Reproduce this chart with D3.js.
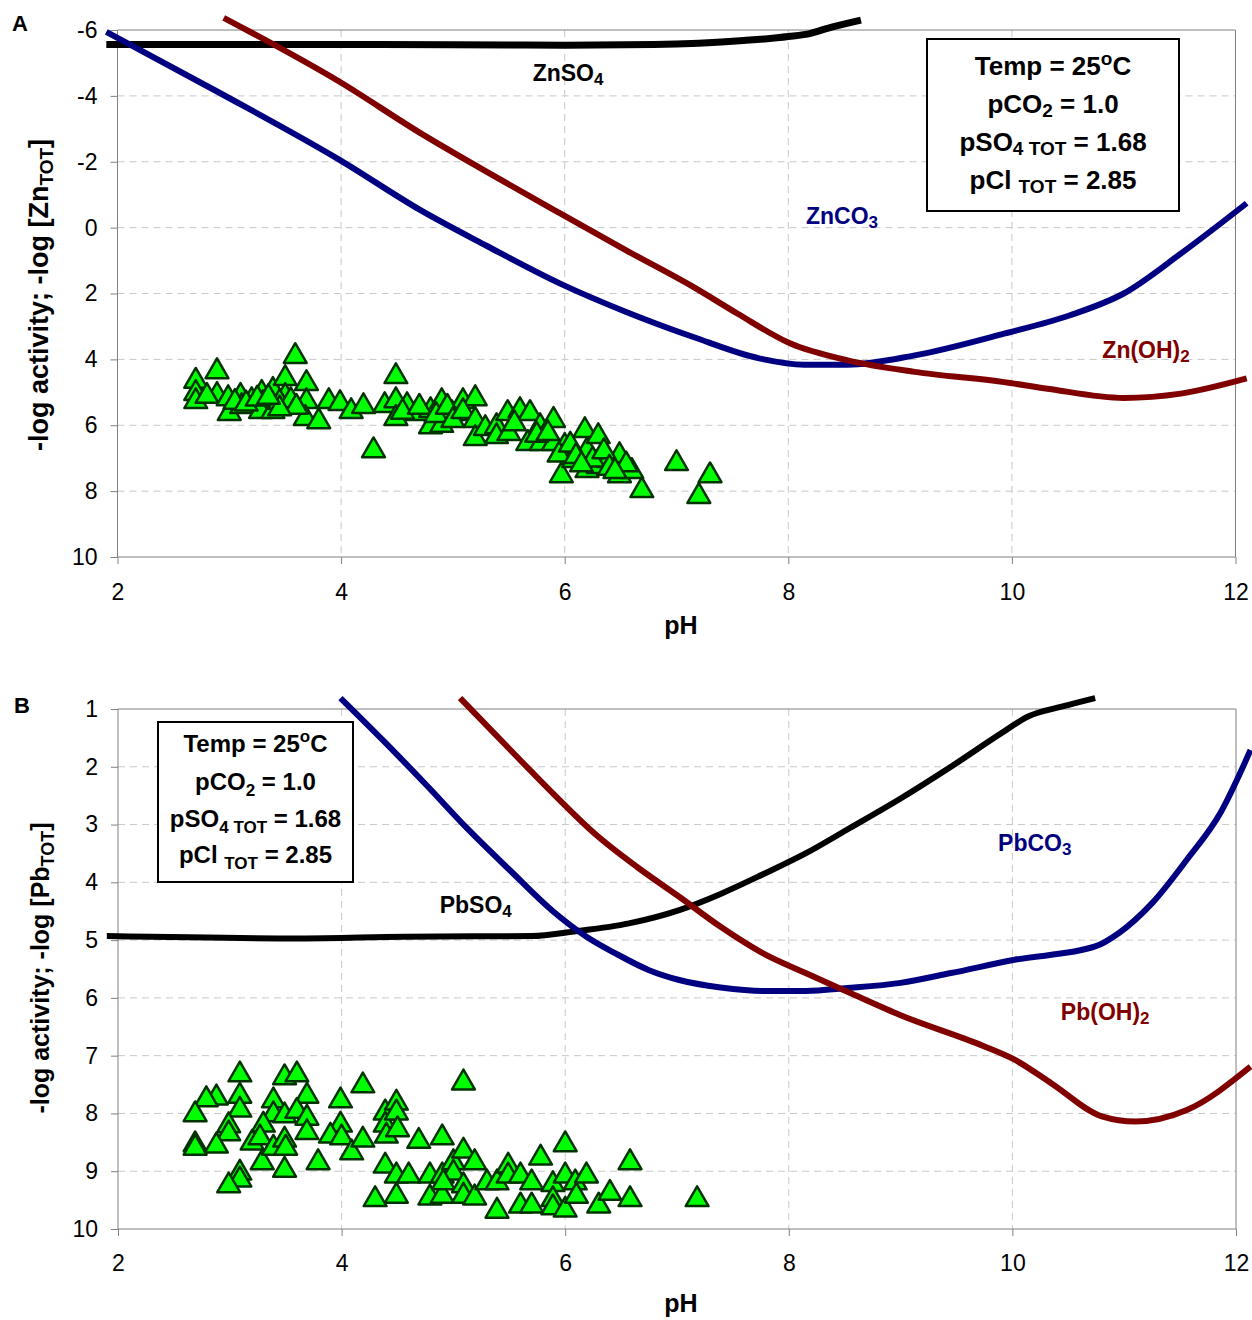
<html>
<head>
<meta charset="utf-8">
<style>
  body { margin: 0; background: #fff; }
  text { font-family: "Liberation Sans", Arial, sans-serif; }
</style>
</head>
<body>
<script src="https://d3js.org/d3.v7.min.js"></script>
<div id="chart"></div>
<script>
// ---------- data ----------
var phTicks = [2, 4, 6, 8, 10, 12];
var znTicks = [-6, -4, -2, 0, 2, 4, 6, 8, 10];
var pbTicks = [1, 2, 3, 4, 5, 6, 7, 8, 9, 10];

// panel A curves  [pH, value]
var znso4 = [[1.9,-5.56],[3,-5.56],[4,-5.56],[5,-5.55],[6,-5.54],[6.8,-5.56],[7.2,-5.6],[7.6,-5.68],[8.0,-5.8],[8.2,-5.9],[8.35,-6.05],[8.65,-6.3]];
var znco3 = [[1.9,-5.94],[2.92,-4.08],[3.99,-2.05],[4.71,-0.53],[5.3,0.55],[5.96,1.7],[6.55,2.56],[7.15,3.32],[7.74,3.97],[8.14,4.16],[8.53,4.16],[9.13,3.88],[9.93,3.22],[10.52,2.66],[11.0,2.0],[11.51,0.79],[12.1,-0.74]];
var znoh2 = [[2.95,-6.37],[3.99,-4.42],[4.71,-2.87],[5.3,-1.7],[5.96,-0.43],[6.55,0.69],[7.15,1.8],[7.54,2.6],[8.02,3.52],[8.53,4.03],[9.13,4.38],[9.93,4.69],[10.32,4.89],[11.0,5.17],[11.51,5.04],[12.1,4.58]];

// panel B curves
var pbso4 = [[1.9,4.93],[3.63,4.97],[4.57,4.94],[5.7,4.93],[6.08,4.85],[6.57,4.71],[7.02,4.48],[7.39,4.2],[7.77,3.86],[8.15,3.5],[8.52,3.09],[9.0,2.55],[9.45,2.0],[9.9,1.42],[10.14,1.13],[10.44,0.96],[10.74,0.81]];
var pbco3 = [[3.99,0.81],[4.38,1.56],[4.76,2.32],[5.13,3.08],[5.51,3.8],[5.89,4.5],[6.19,4.94],[6.45,5.23],[6.75,5.52],[7.02,5.69],[7.39,5.82],[7.77,5.88],[8.15,5.88],[8.52,5.83],[9.0,5.74],[9.45,5.57],[10.02,5.34],[10.74,5.11],[10.95,4.88],[11.25,4.36],[11.56,3.61],[11.86,2.8],[12.13,1.71]];
var pboh2 = [[5.06,0.81],[5.51,1.71],[5.89,2.46],[6.26,3.15],[6.64,3.73],[7.02,4.25],[7.39,4.77],[7.77,5.23],[8.15,5.57],[8.52,5.89],[9.0,6.3],[9.75,6.84],[10.02,7.07],[10.35,7.48],[10.8,8.05],[11.1,8.14],[11.56,7.94],[12.13,7.19]];

// measured samples
var znPoints = [[2.7,4.66],[2.7,5.03],[2.7,5.28],[2.89,4.37],[2.89,5.09],[2.8,5.12],[2.99,5.19],[3.0,5.64],[3.1,5.12],[3.11,5.43],[3.2,5.25],[3.29,5.03],[3.3,5.34],[3.28,5.58],[3.39,4.94],[3.39,5.58],[3.5,4.58],[3.5,5.12],[3.59,3.91],[3.69,4.73],[3.69,5.28],[3.68,5.79],[3.8,5.89],[3.89,5.28],[3.99,5.34],[4.09,5.58],[4.2,5.43],[4.29,6.77],[4.39,5.4],[4.49,4.52],[4.49,5.25],[4.49,5.79],[4.59,5.4],[4.67,5.64],[4.8,5.55],[4.8,6.04],[4.9,5.28],[4.9,6.0],[4.99,5.64],[5.09,5.28],[5.09,5.64],
  [3.05,5.3],[3.15,5.35],[3.25,5.2],[3.45,5.3],[3.55,5.25],[3.6,5.45],[3.45,5.5],[3.35,5.15],[4.55,5.6],[4.7,5.45],[4.85,5.7],[4.95,5.45],[5.0,5.85],
  [5.2,5.19],[5.09,5.58],[5.2,5.85],[5.2,6.4],[5.29,6.1],[5.39,6.04],[5.39,6.34],[5.49,5.64],[5.5,6.25],[5.6,5.55],[5.69,5.64],[5.78,6.04],[5.67,6.55],[5.79,6.55],[5.9,5.85],[5.9,6.55],[6.0,6.64],[5.97,7.53],[6.08,7.07],[6.18,6.16],[6.2,6.77],[6.2,7.37],[6.3,6.34],[6.3,7.25],[6.39,7.07],[6.49,6.92],[6.49,7.53],[6.6,7.4],[6.69,7.98],[7.0,7.16],[7.2,8.16],[7.3,7.53],
  [5.95,6.9],[6.05,6.6],[6.1,6.95],[6.25,7.05],[6.35,6.8],[6.4,7.3],[6.55,7.2],[6.15,7.2],[6.45,7.4],[5.55,5.95],[5.75,6.3],[5.85,6.25]];
var pbPoints = [[3.09,7.33],[3.09,7.7],[3.09,7.94],[3.09,9.03],[3.09,9.15],[2.99,9.25],[2.99,8.21],[2.99,8.35],[2.88,7.73],[2.79,7.76],[2.69,8.02],[2.69,8.54],[2.69,8.6],[2.88,8.56],[3.2,8.51],[3.29,8.85],[3.49,7.38],[3.6,7.33],[3.69,7.7],[3.39,7.78],[3.39,8.02],[3.3,8.2],[3.49,8.04],[3.6,7.96],[3.69,8.08],[3.69,8.33],[3.27,8.42],[3.39,8.6],[3.49,8.46],[3.5,8.6],[3.49,8.98],[3.79,8.85],[3.99,7.78],[3.99,8.2],[3.9,8.39],[4.0,8.42],[4.09,8.68],[4.19,7.52],[4.19,8.46],[4.39,7.99],[4.39,8.2],[4.4,8.39],[4.49,7.82],[4.49,7.99],[4.5,8.28],[4.39,8.91],[4.49,9.08],[4.3,9.49],[4.49,9.43],[4.6,9.08],[4.69,8.48],[4.79,9.08],[4.79,9.46],[4.9,8.42],[4.9,9.08],[4.9,9.43],[5.0,8.85],
  [5.09,7.47],[5.09,8.65],[5.0,9.03],[5.19,8.85],[4.91,9.2],[5.09,9.25],[5.09,9.43],[5.19,9.46],[5.3,9.2],[5.39,9.2],[5.39,9.69],[5.49,8.91],[5.49,9.08],[5.6,9.08],[5.6,9.6],[5.7,9.2],[5.7,9.6],[5.78,8.77],[5.89,9.23],[5.89,9.49],[5.89,9.63],[6.0,8.54],[6.0,9.08],[6.0,9.67],[6.09,9.2],[6.19,9.08],[6.1,9.43],[6.3,9.6],[6.4,9.38],[6.58,8.85],[6.58,9.49],[7.18,9.49]];

// curve labels: [text, subscript, pH, value, colour]
var znLabels = [["ZnSO", "4", 6.03, -4.45, "#000"], ["ZnCO", "3", 8.48, -0.1, "#000080"], ["Zn(OH)", "2", 11.2, 3.97, "#800000"]];
var pbLabels = [["PbSO", "4", 5.2, 4.53, "#000"], ["PbCO", "3", 10.2, 3.45, "#000080"], ["Pb(OH)", "2", 10.83, 6.38, "#800000"]];

var svg = d3.select("#chart").append("svg")
  .attr("width", 1252).attr("height", 1320);

function panel(cfg) {
  var x = d3.scaleLinear().domain([2, 12]).range(cfg.xr);
  var y = d3.scaleLinear().domain(cfg.yd).range(cfg.yr);
  var g = svg.append("g");

  // grid
  g.selectAll(".hg").data(cfg.yticks.slice(1, -1)).enter().append("line")
    .attr("x1", cfg.xr[0]).attr("x2", cfg.xr[1])
    .attr("y1", function(d) { return y(d); }).attr("y2", function(d) { return y(d); })
    .attr("stroke", "#c8c8c8").attr("stroke-dasharray", "7,5");
  g.selectAll(".vg").data(phTicks.slice(1, -1)).enter().append("line")
    .attr("x1", function(d) { return x(d); }).attr("x2", function(d) { return x(d); })
    .attr("y1", cfg.yr[0]).attr("y2", cfg.yr[1])
    .attr("stroke", "#c8c8c8").attr("stroke-dasharray", "7,5");
  // frame top / right
  g.append("path")
    .attr("d", "M" + cfg.xr[0] + "," + cfg.yr[0] + "H" + cfg.xr[1] + "V" + cfg.yr[1])
    .attr("fill", "none").attr("stroke", "#808080");

  // axes
  var ax = g.append("g").attr("transform", "translate(0," + cfg.yr[1] + ")")
    .call(d3.axisBottom(x).tickValues(phTicks).tickSize(7).tickPadding(cfg.xpad).tickFormat(d3.format("d")));
  var ay = g.append("g").attr("transform", "translate(" + cfg.xr[0] + ",0)")
    .call(d3.axisLeft(y).tickValues(cfg.yticks).tickSize(7).tickPadding(13).tickFormat(function(d) { return String(d); }));
  [ax, ay].forEach(function(a) {
    a.select(".domain").attr("stroke", "#808080");
    a.selectAll(".tick line").attr("stroke", "#808080");
    a.selectAll("text").attr("font-size", 23).attr("fill", "#000")
      .attr("font-family", "Liberation Sans, Arial, sans-serif");
  });
  ay.select(".domain").attr("d", "M0," + cfg.yr[0] + "V" + cfg.yr[1]);
  ax.select(".domain").attr("d", "M" + cfg.xr[0] + ",0H" + cfg.xr[1]);

  // curves
  var line = d3.line().x(function(d) { return x(d[0]); }).y(function(d) { return y(d[1]); })
    .curve(d3.curveMonotoneX);
  cfg.series.forEach(function(s) {
    g.append("path").datum(s.data).attr("d", line)
      .attr("fill", "none").attr("stroke", s.color).attr("stroke-width", s.w)
      .attr("stroke-linejoin", "round");
  });

  // samples
  g.selectAll(".pt").data(cfg.points).enter().append("path")
    .attr("d", d3.symbol().type(d3.symbolTriangle).size(225))
    .attr("transform", function(d) { return "translate(" + x(d[0]) + "," + y(d[1]) + ")"; })
    .attr("fill", "#00ff00").attr("stroke", "#003300").attr("stroke-width", 2.5)
    .attr("stroke-linejoin", "round");

  // curve labels
  cfg.labels.forEach(function(l) {
    var t = g.append("text").attr("x", x(l[2])).attr("y", y(l[3]))
      .attr("text-anchor", "middle").attr("font-size", 23).attr("font-weight", "bold").attr("fill", l[4]);
    t.append("tspan").text(l[0]);
    t.append("tspan").attr("font-size", 17).attr("dy", 4).text(l[1]);
  });

  // conditions box
  var b = cfg.box;
  g.append("rect").attr("x", b.x).attr("y", b.y).attr("width", b.w).attr("height", b.h)
    .attr("fill", "#fff").attr("stroke", "#000").attr("stroke-width", 2);
  var cx = b.x + b.w / 2, fs = b.fs, sub = Math.round(fs * 0.72);
  var t1 = g.append("text").attr("x", cx).attr("y", b.base[0]).attr("text-anchor", "middle")
    .attr("font-size", fs).attr("font-weight", "bold");
  t1.append("tspan").text("Temp = 25");
  t1.append("tspan").attr("font-size", sub).attr("dy", -fs * 0.4).text("o");
  t1.append("tspan").attr("dy", fs * 0.4).text("C");
  var t2 = g.append("text").attr("x", cx).attr("y", b.base[1]).attr("text-anchor", "middle")
    .attr("font-size", fs).attr("font-weight", "bold");
  t2.append("tspan").text("pCO");
  t2.append("tspan").attr("font-size", sub).attr("dy", b.subdy).text("2");
  t2.append("tspan").attr("dy", -b.subdy).text(b.gap + "= 1.0");
  var t3 = g.append("text").attr("x", cx).attr("y", b.base[2]).attr("text-anchor", "middle")
    .attr("font-size", fs).attr("font-weight", "bold");
  t3.append("tspan").text("pSO");
  t3.append("tspan").attr("font-size", sub).attr("dy", b.subdy).text("4 TOT");
  t3.append("tspan").attr("dy", -b.subdy).text(" = 1.68");
  var t4 = g.append("text").attr("x", cx).attr("y", b.base[3]).attr("text-anchor", "middle")
    .attr("font-size", fs).attr("font-weight", "bold");
  t4.append("tspan").text("pCl ");
  t4.append("tspan").attr("font-size", sub).attr("dy", b.subdy).text("TOT");
  t4.append("tspan").attr("dy", -b.subdy).text(" = 2.85");

  // axis titles
  g.append("text").attr("x", 681).attr("y", cfg.xtitleY).attr("text-anchor", "middle")
    .attr("font-size", 25).attr("font-weight", "bold").text("pH");
  var yt = g.append("text").attr("transform", "translate(" + cfg.ytitle[0] + "," + cfg.ytitle[1] + ") rotate(-90)")
    .attr("text-anchor", "middle").attr("font-size", cfg.yfs).attr("font-weight", "bold");
  yt.append("tspan").text("-log activity; -log [" + cfg.metal);
  yt.append("tspan").attr("font-size", Math.round(cfg.yfs * 0.7)).attr("dy", 5).text("TOT");
  yt.append("tspan").attr("dy", -5).text("]");

  g.append("text").attr("x", cfg.letter[0]).attr("y", cfg.letter[1])
    .attr("font-size", 22).attr("font-weight", "bold").text(cfg.name);
}

panel({
  name: "A", letter: [12, 31], metal: "Zn",
  xr: [117.5, 1235.5], yd: [-6, 10], yr: [30, 557], yticks: znTicks, xpad: 20,
  series: [{data: znso4, color: "#000", w: 7}, {data: znco3, color: "#000080", w: 6}, {data: znoh2, color: "#800000", w: 6}],
  points: znPoints, labels: znLabels,
  box: {x: 927, y: 39, w: 252, h: 172, fs: 26, base: [75, 113, 151, 189], subdy: 4, gap: " "},
  xtitleY: 634, ytitle: [48, 295], yfs: 27
});
panel({
  name: "B", letter: [14, 713], metal: "Pb",
  xr: [118, 1236], yd: [1, 10], yr: [709, 1229], yticks: pbTicks, xpad: 19,
  series: [{data: pbso4, color: "#000", w: 6}, {data: pbco3, color: "#000080", w: 6}, {data: pboh2, color: "#800000", w: 6}],
  points: pbPoints, labels: pbLabels,
  box: {x: 158, y: 722, w: 195, h: 160, fs: 24, base: [752, 790, 827, 863], subdy: 6, gap: "  "},
  xtitleY: 1312, ytitle: [49, 968], yfs: 25
});
</script>
</body>
</html>
